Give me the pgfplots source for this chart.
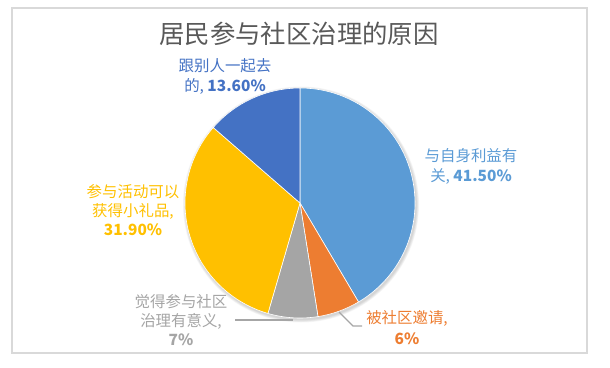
\documentclass[border=0pt]{standalone}
\usepackage{pgfplots}
\pgfplotsset{compat=1.18}
\usepackage{pgfplotstable}
\usepackage{fontspec}
\setmainfont{Noto Sans CJK SC}
\definecolor{c1}{HTML}{5B9BD5}
\definecolor{c2}{HTML}{ED7D31}
\definecolor{c3}{HTML}{A5A5A5}
\definecolor{c4}{HTML}{FFC000}
\definecolor{c5}{HTML}{4472C4}
\definecolor{titlec}{HTML}{595959}
\definecolor{framec}{HTML}{D9D9D9}
\definecolor{leadc}{HTML}{A6A6A6}

\pgfplotstableread{
value col
41.5 c1
6 c2
7 c3
31.9 c4
13.6 c5
}\piedata

\begin{document}
\begin{tikzpicture}
\begin{axis}[
  width=610bp, height=367bp, scale only axis,
  xmin=0, xmax=610, ymin=0, ymax=367,
  hide axis, clip=false]
\addplot[draw=none] coordinates {(0,0) (610,367)};
\pgfplotsextra{
  \path (axis cs:0,0) rectangle (axis cs:610,367);
  \draw[framec, line width=1.6bp] (axis cs:12,14) rectangle (axis cs:587,359);
  % soft shadow
  \foreach \k in {1,...,5}{
    \fill[black, opacity=0.035] (axis cs:301,162.5) circle[radius={115bp+\k*0.6bp}];
  }
  \pgfplotstablegetrowsof{\piedata}
  \pgfmathtruncatemacro\N{\pgfplotsretval-1}
  \gdef\cum{0}
  \foreach \i in {0,...,\N}{
    \pgfplotstablegetelem{\i}{value}\of\piedata
    \let\sliceval\pgfplotsretval
    \pgfplotstablegetelem{\i}{col}\of\piedata
    \let\slicecol\pgfplotsretval
    \pgfmathsetmacro\sa{90-3.6*\cum}
    \pgfmathsetmacro\sb{90-3.6*(\cum+\sliceval)}
    \fill[fill=\slicecol, draw=white, line width=0.6bp, line join=round]
      (axis cs:300,164) -- ++(\sa:115bp) arc[start angle=\sa, end angle=\sb, radius=115bp] -- cycle;
    \pgfmathsetmacro\tmp{\cum+\sliceval}
    \xdef\cum{\tmp}
  }
  % leader lines
  \draw[leadc, line width=1.2bp] (axis cs:235,47) -- (axis cs:293,47);
  \draw[leadc, line width=1.2bp] (axis cs:339,55) -- (axis cs:353,41) -- (axis cs:362,41);
}
\node[font=\fontsize{25.5}{25.5}\selectfont, text=titlec, inner sep=0] at (axis cs:299,333.5) {居民参与社区治理的原因};
\node[font=\fontsize{15.5}{19.5}\selectfont, text=c5, align=center, inner sep=0] at (axis cs:225,290.5) {跟别人一起去\\的, \textbf{13.60\%}};
\node[font=\fontsize{15.5}{20.5}\selectfont, text=c1, align=center, inner sep=0] at (axis cs:471,200.5) {与自身利益有\\关, \textbf{41.50\%}};
\node[font=\fontsize{15.5}{20.5}\selectfont, text=c2, align=center, inner sep=0] at (axis cs:407,39.5) {被社区邀请,\\\textbf{6\%}};
\node[font=\fontsize{15.5}{19}\selectfont, text=c3, align=center, inner sep=0] at (axis cs:181,47) {觉得参与社区\\治理有意义,\\\textbf{7\%}};
\node[font=\fontsize{15.5}{19}\selectfont, text=c4, align=center, inner sep=0] at (axis cs:133,157) {参与活动可以\\获得小礼品,\\\textbf{31.90\%}};
\end{axis}
\end{tikzpicture}
\end{document}
